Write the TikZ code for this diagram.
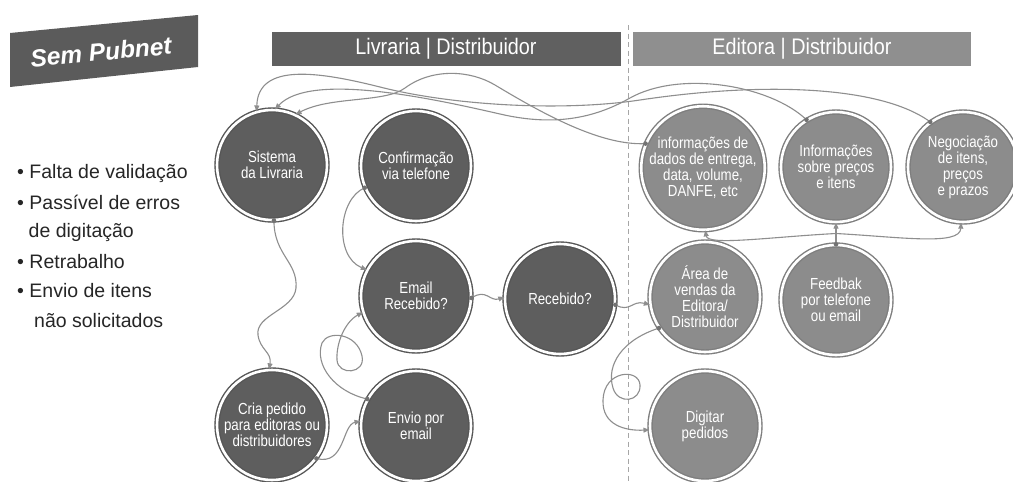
\documentclass[tikz,border=0pt]{standalone}
\usepackage{fontspec}
\setmainfont{Liberation Sans}
\newfontfamily\narrowfont[FakeStretch=0.83]{Liberation Sans}
\newfontfamily\headfont[FakeStretch=0.88]{Liberation Sans}
\usetikzlibrary{arrows.meta,calc}
\definecolor{darkc}{HTML}{5E5E5E}
\definecolor{darkring}{HTML}{565656}
\definecolor{lightc}{HTML}{8C8C8C}
\definecolor{lightring}{HTML}{7E7E7E}
\definecolor{conncol}{HTML}{8E8E8E}
\definecolor{txtcol}{HTML}{262626}
\definecolor{bannercol}{HTML}{5B5B5B}
\definecolor{leftbar}{HTML}{606060}
\definecolor{rightbar}{HTML}{8F8F8F}
\begin{document}
\begin{tikzpicture}[x=1pt,y=-1pt,
  bubble/.style={circle, minimum size=110pt, inner sep=0pt, align=center,
    font=\narrowfont\fontsize{16}{16}\selectfont, text=white,
    line width=1.4pt, double distance=2.6pt, double=white},
  darkb/.style={bubble, draw=darkring, fill=darkc},
  lightb/.style={bubble, draw=lightring, fill=lightc},
  link/.style={draw=conncol, line width=1.1pt, -{Triangle[length=6pt,width=5pt]}},
  dotc/.style={fill=conncol!80!black},
  bar/.style={minimum height=34pt, inner sep=0pt, text=white,
    font=\headfont\fontsize{22.5}{24}\selectfont},
  bul/.style={anchor=west, inner sep=0pt, text=txtcol,
    font=\fontsize{19.5}{23}\selectfont}
]
\fill[white] (0,0) rectangle (1013,482);
\useasboundingbox (0,0) rectangle (1013,482);

% banner
\fill[bannercol] (10,33) -- (198,15) -- (198,67) -- (10,87) -- cycle;
\node[rotate=5.5, text=white, font=\bfseries\itshape\fontsize{24.5}{26}\selectfont] (sp) at (101,52) {Sem Pubnet};

% header bars
\node[bar, fill=leftbar, minimum width=349pt] (hl) at (446,48.5) {Livraria | Distribuidor};
\node[bar, fill=rightbar, minimum width=338pt] (hr) at (802,48.5) {Editora | Distribuidor};

% divider
\draw[draw=black!35, line width=1pt, dash pattern=on 5pt off 3.5pt] (628,25) -- (628,482);

% bullets
\node[bul] (b1) at (17,173) {• Falta de validação};
\node[bul] (b2) at (17,202.5) {• Passível de erros};
\node[bul] (b3) at (28.5,232) {de digitação};
\node[bul] (b4) at (17,261.5) {• Retrabalho};
\node[bul] (b5) at (17,291) {• Envio de itens};
\node[bul] (b6) at (34,320.5) {não solicitados};

% circles
\node[darkb] (sis) at (272,165) {Sistema\\da Livraria};
\node[darkb] (conf) at (416,166) {Confirmação\\via telefone};
\node[darkb] (email) at (416,296) {Email\\Recebido?};
\node[darkb] (rec) at (560,299) {Recebido?};
\node[darkb] (cria) at (272,425) {Cria pedido\\para editoras ou\\distribuidores};
\node[darkb] (envio) at (416,426) {Envio por\\email};
\node[lightb] (info) at (703,168) {informações de\\dados de entrega,\\data, volume,\\DANFE, etc};
\node[lightb] (inf2) at (836,167) {Informações\\sobre preços\\e itens};
\node[lightb] (neg) at (963,167) {Negociação\\de itens,\\preços\\e prazos};
\node[lightb] (area) at (705,297) {Área de\\vendas da\\Editora/\\Distribuidor};
\node[lightb] (feed) at (836,300) {Feedbak\\por telefone\\ou email};
\node[lightb] (dig) at (705,426) {Digitar\\pedidos};

% connectors
\draw[link] (sis.-88) .. controls (274,255) and (298,262) .. (296,288) .. controls (294,310) and (255,315) .. (258,335) .. controls (260,350) and (272,352) .. (cria.93);
\draw[link] (conf.203) .. controls (338,199) and (334,256) .. (email.152);
\draw[link] (envio.151) .. controls (335,392) and (314,365) .. (322,343) .. controls (328,330) and (357,333) .. (362,356) .. controls (366,374) and (338,376) .. (337,360) .. controls (336,343) and (345,322) .. (email.197);
\draw[link] (cria.-37) .. controls (345,466) and (342,425) .. (envio.175);
\draw[link] (email.-2) .. controls (486,288) and (490,302) .. (rec.178);
\draw[link] (rec.-6) .. controls (630,313) and (632,300) .. (area.188);
\draw[link] (area.214) .. controls (622,340) and (606,365) .. (613,388) .. controls (618,405) and (641,402) .. (640,385) .. controls (639,368) and (604,370) .. (603,400) .. controls (602,425) and (625,431) .. (dig.184);

\coordinate (jn) at ($(feed.90)!0.5!(inf2.-90)$);
\draw[link] (feed.90) -- (inf2.-90);
\draw[link] (jn) .. controls (770,237) and (708,246) .. (info.-88);
\draw[link] (jn) .. controls (900,237) and (960,246) .. (neg.-92);

\draw[link] (neg.126) .. controls (880,85) and (760,82) .. (640,100) .. controls (560,112) and (450,105) .. (380,87) .. controls (320,72) and (258,62) .. (sis.106);
\draw[link] (inf2.122) .. controls (770,85) and (680,70) .. (630,98) .. controls (600,115) and (560,128) .. (500,114) .. controls (430,98) and (310,72) .. (sis.87);
\draw[link] (info.157) .. controls (600,146) and (540,112) .. (495,85) .. controls (470,70) and (432,68) .. (405,88) .. controls (385,103) and (330,96) .. (sis.65);

% start dots
\foreach \p in {sis.-88, conf.203, envio.151, cria.-37, email.-2, rec.-6, area.214, feed.90, neg.126, inf2.122, info.157}
  \fill[dotc] (\p) circle (2.3pt);
\end{tikzpicture}
\end{document}
